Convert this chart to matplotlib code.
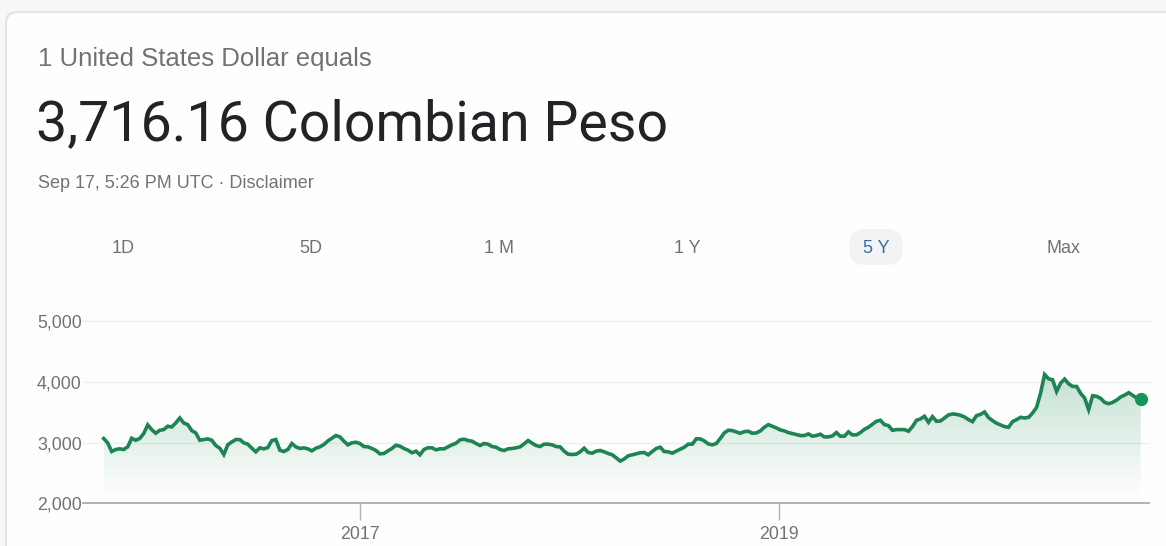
import matplotlib
matplotlib.use("Agg")
import matplotlib.pyplot as plt
import matplotlib.dates as mdates
from matplotlib.colors import LinearSegmentedColormap
from matplotlib.patches import FancyBboxPatch
from matplotlib.transforms import IdentityTransform
import numpy as np
import pandas as pd

W, H, DPI = 1166, 546, 100

# weekly USD -> COP closes, split by stretch of the 5 year window
cop_oct15_dec16 = [3066, 2995, 2852, 2885, 2896, 2885, 2929, 3071, 3038, 3066,
                   3148, 3290, 3213, 3153, 3202, 3213, 3268, 3257, 3322, 3404,
                   3322, 3295, 3197, 3158, 3038, 3049, 3060, 3038, 2951, 2907,
                   2803, 2962, 3011, 3049, 3049, 2995, 2973, 2907, 2847, 2913,
                   2896, 2918, 3033, 3049, 2874, 2852, 2885, 2984, 2929, 2902,
                   2913, 2896, 2863, 2907, 2929, 2967, 3027, 3071, 3115, 3093,
                   3022, 2962, 2995, 3005, 2984, 2934]
cop_jan17_mar18 = [2929, 2902, 2869, 2814, 2820, 2863, 2902, 2956, 2940, 2902,
                   2874, 2831, 2858, 2798, 2885, 2913, 2913, 2880, 2896, 2896,
                   2929, 2962, 2989, 3044, 3055, 3033, 3022, 2984, 2951, 2984,
                   2973, 2934, 2923, 2885, 2869, 2896, 2902, 2913, 2929, 2978,
                   3033, 2989, 2951, 2934, 2973, 2973, 2962, 2934, 2929, 2858,
                   2809, 2803, 2809, 2847, 2907, 2836, 2825, 2858, 2869, 2847,
                   2820, 2798, 2749, 2694, 2730]
cop_apr18_jun19 = [2781, 2798, 2814, 2831, 2836, 2798, 2852, 2902, 2923, 2852,
                   2847, 2825, 2858, 2891, 2923, 2973, 2973, 3060, 3060, 3027,
                   2978, 2962, 2984, 3066, 3158, 3202, 3197, 3175, 3153, 3180,
                   3186, 3153, 3158, 3191, 3251, 3295, 3268, 3240, 3208, 3191,
                   3164, 3148, 3131, 3115, 3115, 3142, 3104, 3115, 3137, 3093,
                   3093, 3109, 3164, 3104, 3104, 3175, 3126, 3126, 3164, 3218,
                   3251, 3300, 3350, 3366, 3295]
cop_jul19_sep20 = [3279, 3202, 3213, 3213, 3213, 3186, 3262, 3366, 3388, 3432,
                   3333, 3426, 3350, 3355, 3404, 3454, 3470, 3464, 3448, 3421,
                   3377, 3344, 3443, 3464, 3503, 3410, 3361, 3317, 3290, 3262,
                   3251, 3344, 3377, 3415, 3404, 3415, 3486, 3579, 3814, 4120,
                   4049, 4033, 3841, 3978, 4044, 3967, 3923, 3923, 3809, 3732,
                   3541, 3770, 3759, 3727, 3661, 3639, 3661, 3699, 3749, 3781,
                   3820, 3776, 3732, 3716.16]

rates = cop_oct15_dec16 + cop_jan17_mar18 + cop_apr18_jun19 + cop_jul19_sep20
dates = pd.date_range("2015-10-13", "2020-09-22", periods=len(rates))

y_ticks = [2000, 3000, 4000, 5000]
year_ticks = ["2017-01-01", "2019-01-01"]
year_labels = ["2017", "2019"]
range_labels = ["1D", "5D", "1 M", "1 Y", "5 Y", "Max"]
range_centers = [123, 311, 499, 687, 876, 1064]
active_range = "5 Y"

GREEN = "#1d8453"
GREY = "#6f7377"
SMALL = ["Liberation Sans", "DejaVu Sans"]
plt.rcParams["font.family"] = SMALL


def fx(x):
    return x / W


def fy(y):
    return 1 - y / H


fig = plt.figure(figsize=(W / DPI, H / DPI), dpi=DPI, facecolor="#f7f7f7")

# card behind everything
shadow = FancyBboxPatch((5, -40), 1250, H - 11 + 40,
                        boxstyle="round,pad=0,rounding_size=12",
                        transform=IdentityTransform(), facecolor="#e4e4e6",
                        edgecolor="none", zorder=-3)
card = FancyBboxPatch((7, -40), 1250, H - 13 + 40,
                      boxstyle="round,pad=0,rounding_size=11",
                      transform=IdentityTransform(), facecolor="#fefefe",
                      edgecolor="none", zorder=-2)
fig.add_artist(shadow)
fig.add_artist(card)

# header
fig.text(fx(38), fy(66), "1 United States Dollar equals", fontsize=18.5,
         color=GREY, va="baseline", ha="left")
fig.text(fx(36), fy(140), "3,716.16 Colombian Peso", fontsize=40,
         family=["Roboto", "DejaVu Sans"], color="#222326",
         va="baseline", ha="left")
fig.text(fx(38), fy(188), "Sep 17, 5:26 PM UTC \u00b7 Disclaimer", fontsize=13,
         color=GREY, va="baseline", ha="left")

# range selector
for label, cx in zip(range_labels, range_centers):
    color = GREY
    if label == active_range:
        color = "#3f6aa3"
        pill = FancyBboxPatch((cx - 27, H - 265), 54, 36,
                              boxstyle="round,pad=0,rounding_size=17",
                              transform=IdentityTransform(),
                              facecolor="#f1f3f4", edgecolor="none", zorder=-1)
        fig.add_artist(pill)
    fig.text(fx(cx), fy(253), label, fontsize=13, color=color,
             ha="center", va="baseline")

# chart
ax = fig.add_axes([fx(83), fy(503.3), fx(1149.3) - fx(83), fy(321) - fy(503.3)])
ax.set_facecolor("none")

ax.plot(dates, rates, color=GREEN, lw=2.6, solid_joinstyle="miter", zorder=4)
ax.plot(dates[-1:], rates[-1:], "o", color="#179456", ms=8.5, zorder=5)

fill = ax.fill_between(dates, rates, 2000, color="none", lw=0)
xnum = mdates.date2num(dates)
shade = LinearSegmentedColormap.from_list(
    "shade", [(0.12, 0.55, 0.34, 0.0), (0.12, 0.55, 0.34, 0.26)])
grad = np.linspace(0, 1, 256).reshape(-1, 1)
img = ax.imshow(grad, extent=[xnum[0], xnum[-1], 2080, 4150], origin="lower",
                cmap=shade, aspect="auto", zorder=2, interpolation="bilinear")
img.set_clip_path(fill.get_paths()[0], transform=ax.transData)

ax.set_xlim(pd.Timestamp("2015-09-07"), pd.Timestamp("2020-10-07"))
ax.set_ylim(2000, 5000)

ax.set_yticks(y_ticks)
ax.set_yticklabels([f"{v:,}" for v in y_ticks])
ax.set_xticks(pd.to_datetime(year_ticks))
ax.set_xticklabels(year_labels)
ax.tick_params(axis="y", length=0, pad=1, labelsize=12.8, labelcolor=GREY)
ax.tick_params(axis="x", length=12, width=1, color="#b0b3b8", pad=4,
               labelsize=12.8, labelcolor=GREY)

for v in y_ticks[1:]:
    ax.axhline(v, color="#efefef", lw=1, zorder=0, clip_on=False)

for side in ["top", "right", "left"]:
    ax.spines[side].set_visible(False)
ax.spines["bottom"].set_color("#a9acb0")
ax.spines["bottom"].set_linewidth(1.3)

fig.savefig("out.png", dpi=DPI, facecolor=fig.get_facecolor())
